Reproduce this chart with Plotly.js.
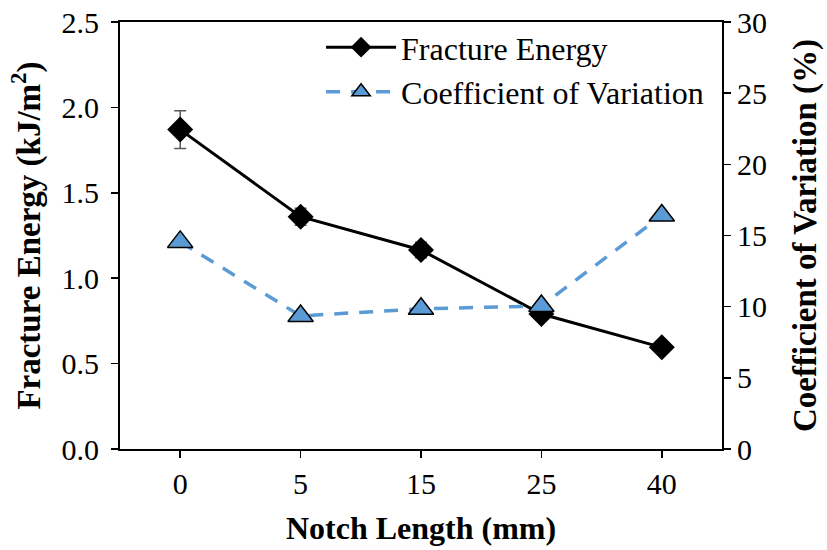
<!DOCTYPE html>
<html>
<head>
<meta charset="utf-8">
<script src="https://cdn.plot.ly/plotly-3.0.1.min.js"></script>
<style>html,body{margin:0;padding:0;background:#fff;}#chart{width:827px;height:550px;}</style>
</head>
<body>
<div id="chart"></div>
<script>
const notchLabels = ["0", "5", "15", "25", "40"];
const fractureEnergy = [1.87, 1.36, 1.165, 0.79, 0.595];
const fractureErr = [0.11, 0.05, 0.045, 0.02, 0.02];
const coefVariation = [14.55, 9.35, 9.85, 10.05, 16.4];

const font = "Liberation Serif";

const traces = [
  {
    x: notchLabels, y: fractureEnergy, name: "Fracture Energy",
    type: "scatter", mode: "lines+markers",
    line: {color: "#000000", width: 3},
    marker: {symbol: "diamond", size: 20, color: "#000000"},
    error_y: {type: "data", array: fractureErr, visible: true, color: "#595959", thickness: 1.5, width: 6},
    yaxis: "y"
  },
  {
    x: notchLabels, y: coefVariation, name: "Coefficient of Variation",
    type: "scatter", mode: "lines+markers",
    line: {color: "#5B9BD5", width: 3.5, dash: "14px,11px"},
    marker: {symbol: "triangle-up", size: 22, color: "#5B9BD5", line: {color: "#000000", width: 1.5}},
    yaxis: "y2"
  }
];

const layout = {
  width: 827, height: 550,
  margin: {l: 120, r: 105, t: 22, b: 101},
  paper_bgcolor: "#ffffff", plot_bgcolor: "#ffffff",
  font: {family: font, size: 30, color: "#000000"},
  showlegend: true,
  legend: {
    x: 0.334, y: 1.005, xanchor: "left", yanchor: "top",
    bgcolor: "rgba(0,0,0,0)", itemwidth: 70,
    font: {family: font, size: 32, color: "#000"},
    tracegroupgap: 0
  },
  xaxis: {
    type: "category", range: [-0.5, 4.5],
    showline: true, linecolor: "#000", linewidth: 2, mirror: true,
    ticks: "outside", ticklen: 7, tickwidth: 1.5, tickcolor: "#000",
    showgrid: false, zeroline: false,
    tickfont: {family: font, size: 30, color: "#000"},
    title: {text: "<b>Notch Length (mm)</b>", font: {family: font, size: 32, color: "#000"}, standoff: 18}
  },
  yaxis: {
    range: [0, 2.5], dtick: 0.5, tickformat: ".1f",
    showline: true, linecolor: "#000", linewidth: 2,
    ticks: "outside", ticklen: 7, tickwidth: 1.5, tickcolor: "#000",
    ticklabelstandoff: 6,
    showgrid: false, zeroline: false,
    tickfont: {family: font, size: 30, color: "#000"},
    title: {text: "<b>Fracture Energy (kJ/m<sup>2</sup>)</b>", font: {family: font, size: 33, color: "#000"}, standoff: 11}
  },
  yaxis2: {
    range: [0, 30], dtick: 5, overlaying: "y", side: "right",
    showline: true, linecolor: "#000", linewidth: 2,
    ticks: "outside", ticklen: 7, tickwidth: 1.5, tickcolor: "#000",
    showgrid: false, zeroline: false,
    tickfont: {family: font, size: 30, color: "#000"},
    title: {text: "<b>Coefficient of Variation (%)</b>", font: {family: font, size: 33, color: "#000"}, standoff: 27}
  }
};

Plotly.newPlot("chart", traces, layout, {displayModeBar: false, staticPlot: true});
</script>
</body>
</html>
